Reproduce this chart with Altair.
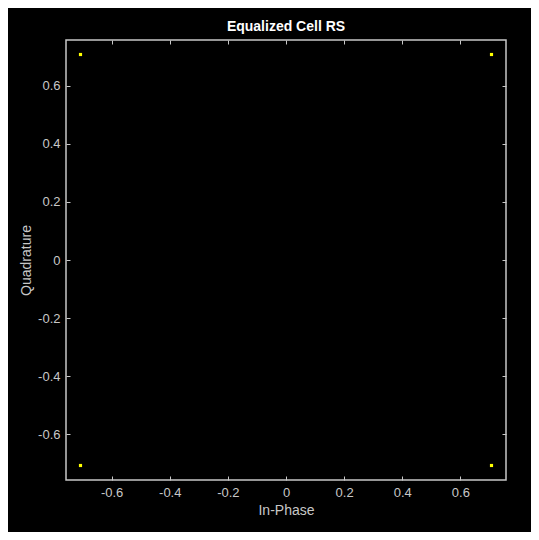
import altair as alt
import pandas as pd

in_phase = [-0.7071, 0.7071, -0.7071, 0.7071]
quadrature = [0.7071, 0.7071, -0.7071, -0.7071]
tick_vals = [-0.6, -0.4, -0.2, 0, 0.2, 0.4, 0.6]
lim = 0.757

df = pd.DataFrame({"I": in_phase, "Q": quadrature})

FONT = "Liberation Sans"
GRAY = "#c8c8c8"
LABEL_EXPR = "datum.value == 0 ? '0' : replace(format(datum.value, '.1f'), '\u2212', '-')"

xs = alt.Scale(domain=[-lim, lim], nice=False, zero=False)
ys = alt.Scale(domain=[-lim, lim], nice=False, zero=False)

def axis(orient, title="", labels=True):
    return alt.Axis(
        orient=orient, values=tick_vals, domain=False, grid=False,
        tickSize=4, offset=-4, tickColor=GRAY, tickWidth=1,
        labels=labels, labelColor=GRAY, labelFont=FONT, labelFontSize=13,
        labelPadding=6, labelExpr=LABEL_EXPR,
        title=title, titleColor=GRAY, titleFont=FONT, titleFontSize=14,
        titleFontWeight="normal",
    )

pts = alt.Chart(df).mark_square(size=10, color="#ffff00", opacity=1).encode(
    x=alt.X("I:Q", scale=xs, axis=axis("bottom", "In-Phase")),
    y=alt.Y("Q:Q", scale=ys, axis=axis("left", "Quadrature")),
)

frame = alt.Chart(df).mark_point(opacity=0).encode(
    x=alt.X("I:Q", scale=xs, axis=axis("top", labels=False)),
    y=alt.Y("Q:Q", scale=ys, axis=axis("right", labels=False)),
)

chart = alt.layer(pts, frame).resolve_axis(x="independent", y="independent").properties(
    width=440, height=440,
    background="black",
    autosize=alt.AutoSizeParams(type="none"),
    padding={"left": 58, "top": 32, "right": 25, "bottom": 52},
    title=alt.TitleParams("Equalized Cell RS", color="white", font=FONT,
                          fontSize=14, fontWeight="bold", offset=6),
).configure_view(stroke=GRAY, strokeWidth=1.5, fill="black")

chart.save("out.html", embed_options={"renderer": "svg", "actions": False})
